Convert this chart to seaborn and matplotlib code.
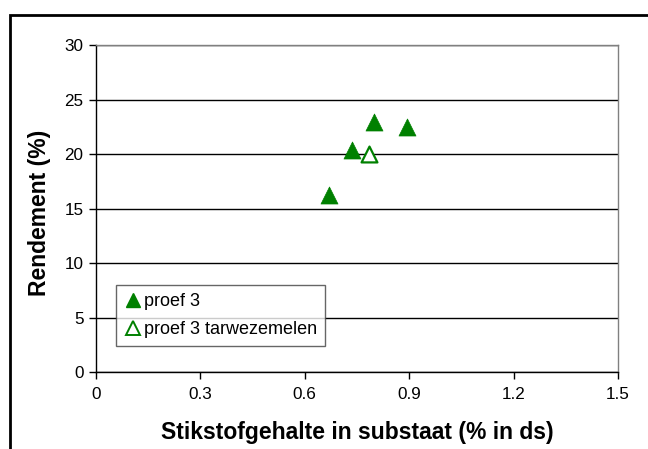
import matplotlib
matplotlib.use("Agg")
import matplotlib.pyplot as plt
import seaborn as sns
import pandas as pd
from matplotlib.patches import Rectangle
from matplotlib.lines import Line2D

sns.set_style("white")
plt.rcParams['font.family'] = ['Liberation Sans', 'DejaVu Sans']
plt.rcParams['text.color'] = 'black'
plt.rcParams['axes.labelcolor'] = 'black'
plt.rcParams['xtick.color'] = 'black'
plt.rcParams['ytick.color'] = 'black'

# data
x_proef3 = [0.67, 0.735, 0.798, 0.895]
y_proef3 = [16.2, 20.4, 22.9, 22.5]
x_tarwe = [0.785]
y_tarwe = [20.0]
series_names = ["proef 3", "proef 3 tarwezemelen"]
xticks = [0, 0.3, 0.6, 0.9, 1.2, 1.5]
xticklabels = ["0", "0.3", "0.6", "0.9", "1.2", "1.5"]
yticks = [0, 5, 10, 15, 20, 25, 30]

green = "#008000"

fig = plt.figure(figsize=(6.48, 4.49), dpi=100)
W, H = 648, 449
ax = fig.add_axes([96 / W, 1 - 372 / H, (618 - 96) / W, (372 - 45) / H])

df1 = pd.DataFrame({"x": x_proef3, "y": y_proef3})
df2 = pd.DataFrame({"x": x_tarwe, "y": y_tarwe})
sns.scatterplot(data=df1, x="x", y="y", ax=ax, marker="^", s=150,
                color=green, edgecolor=green, linewidth=0.5, zorder=3)
sns.scatterplot(data=df2, x="x", y="y", ax=ax, marker="^", s=130,
                facecolor="white", edgecolor=green, linewidth=1.6, zorder=3)

ax.set_xlim(0, 1.5)
ax.set_ylim(0, 30)
ax.set_xticks(xticks)
ax.set_xticklabels(xticklabels)
ax.set_yticks(yticks)
ax.yaxis.grid(True, color="black", linewidth=1.0)
ax.xaxis.grid(False)
ax.set_axisbelow(True)
for side in ["left", "bottom"]:
    ax.spines[side].set_color("black")
    ax.spines[side].set_linewidth(1.0)
for side in ["right", "top"]:
    ax.spines[side].set_visible(True)
    ax.spines[side].set_color("#808080")
    ax.spines[side].set_linewidth(1.0)
ax.tick_params(axis="both", which="major", direction="out", length=5, width=1,
               color="black", labelcolor="black", labelsize=12.3, bottom=True, left=True)
ax.tick_params(axis="x", pad=6)
ax.tick_params(axis="y", pad=4)

ax.set_xlabel("Stikstofgehalte in substaat (% in ds)", fontsize=16.5, fontweight="bold", color="black")
ax.set_ylabel("Rendement (%)", fontsize=16.5, fontweight="bold", color="black")
ax.xaxis.set_label_coords(0.5, (372 - 421) / (372 - 45))
ax.yaxis.set_label_coords((51 - 96) / (618 - 96), (372 - 213) / (372 - 45))

handles = [
    Line2D([], [], marker="^", linestyle="none", markersize=10, markerfacecolor=green, markeredgecolor=green),
    Line2D([], [], marker="^", linestyle="none", markersize=10, markerfacecolor="white",
           markeredgecolor=green, markeredgewidth=1.4),
]
leg = ax.legend(handles, series_names, loc="upper left",
                bbox_to_anchor=((116 - 96) / (618 - 96), (372 - 285) / (372 - 45)),
                fontsize=13.0, frameon=True, fancybox=False, handletextpad=0.1,
                handlelength=1.0, borderpad=0.45, labelspacing=0.6, borderaxespad=0)
leg.get_frame().set_edgecolor("#404040")
leg.get_frame().set_linewidth(1.0)
for t in leg.get_texts():
    t.set_color("black")

# outer frame
fig.patches.append(Rectangle((10 / W, -0.2), 1.2, 1 - 15 / H + 0.2, transform=fig.transFigure,
                             fill=False, edgecolor="black", linewidth=2.0))

fig.savefig("out.png", dpi=100)
